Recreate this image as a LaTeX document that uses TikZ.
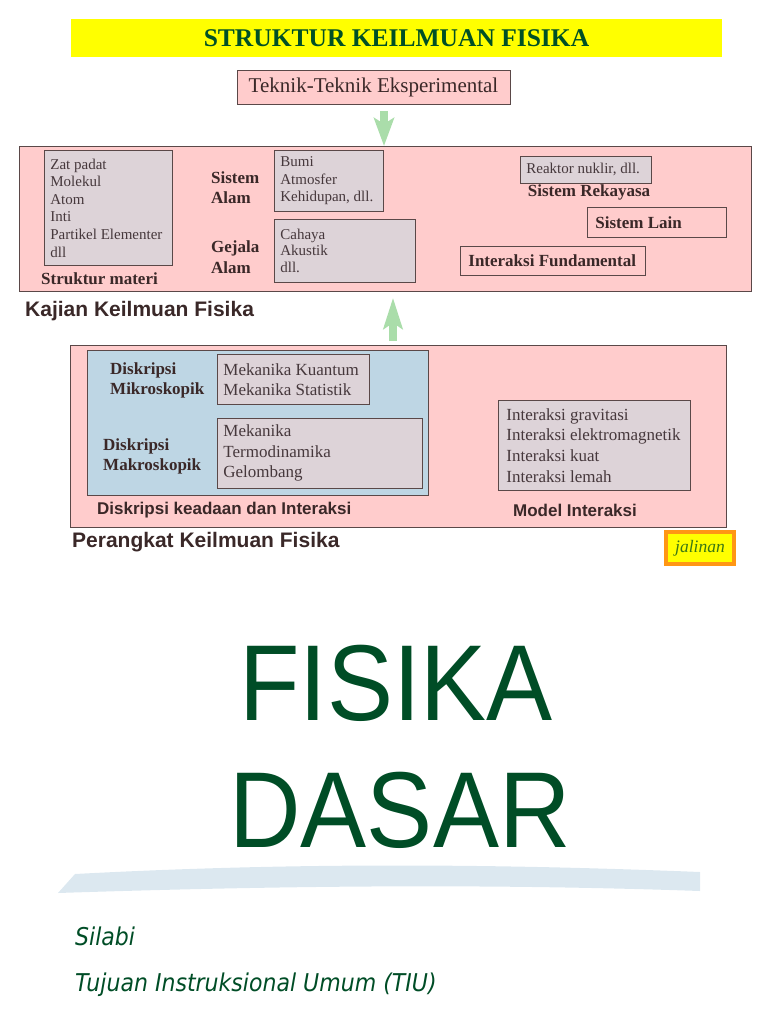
\documentclass[tikz,border=0pt]{standalone}
\usepackage{fontspec}
\setmainfont{Liberation Serif}
\setsansfont{Liberation Sans}
\newfontfamily\silabifont[FakeStretch=0.9]{DejaVu Sans}
\usetikzlibrary{arrows.meta,positioning,calc}

\definecolor{kuning}{RGB}{255,255,0}
\definecolor{hijautua}{RGB}{0,80,38}
\definecolor{hijaufisika}{RGB}{0,77,38}
\definecolor{merahmuda}{RGB}{255,204,204}
\definecolor{abuisi}{RGB}{221,211,216}
\definecolor{birumuda}{RGB}{190,214,228}
\definecolor{garis}{RGB}{90,72,72}
\definecolor{teksabu}{RGB}{70,56,60}
\definecolor{teksgelap}{RGB}{58,40,40}
\definecolor{hijaupanah}{RGB}{170,221,170}
\definecolor{oranye}{RGB}{255,150,20}
\definecolor{hijaujalin}{RGB}{60,120,20}
\definecolor{ombak}{RGB}{220,232,240}

\tikzset{
  kotakbesar/.style={draw=garis, fill=merahmuda, thick, anchor=north west, inner sep=0pt},
  isi/.style={draw=garis, fill=abuisi, thick, anchor=north west, align=flush left, inner xsep=6pt, inner ysep=0pt, text=teksabu},
  label/.style={font=\fontsize{17}{20}\selectfont\bfseries, text=teksgelap, align=left, inner sep=0pt},
  labelsans/.style={font=\sffamily\bfseries\fontsize{17}{20}\selectfont, text=teksgelap, inner sep=0pt},
  panah/.style={hijaupanah, line width=8pt}
}

\begin{document}
\begin{tikzpicture}[x=1pt,y=-1pt]
\useasboundingbox (0,0) rectangle (768,1024);

% judul
\node[fill=kuning, minimum width=651, minimum height=38, inner sep=0pt, text=hijautua,
      font=\fontsize{25.5}{28}\selectfont\bfseries] (judul) at (396.5,38) {STRUKTUR KEILMUAN FISIKA};

\node[draw=garis, fill=merahmuda, thick, minimum width=273, minimum height=34, inner sep=0pt,
      text=teksgelap, font=\fontsize{21}{24}\selectfont] (teknik) at (373.5,87) {Teknik-Teknik Eksperimental};

% kajian keilmuan
\node[kotakbesar, minimum width=732, minimum height=145] (kajian) at (19,146) {};

\node[isi, text width=116, minimum height=115, font=\fontsize{15}{17.6}\selectfont] (materi) at (44,150)
  {Zat padat\\Molekul\\Atom\\Inti\\Partikel Elementer\\dll};
\node[label, anchor=west] (strukturmateri) at (41,279) {Struktur materi};

\node[label, anchor=west] (sistemalam) at (211,188) {Sistem\\Alam};
\node[isi, text width=97, minimum height=61, font=\fontsize{15}{17.6}\selectfont] (bumi) at (274,150)
  {Bumi\\Atmosfer\\Kehidupan, dll.};

\node[label, anchor=west, font=\fontsize{17}{21}\selectfont\bfseries] (gejalaalam) at (211,257.5) {Gejala\\Alam};
\node[isi, text width=129, minimum height=63, font=\fontsize{15}{16.8}\selectfont] (cahaya) at (274,219)
  {Cahaya\\Akustik\\dll.};

\node[isi, text width=119, minimum height=27, font=\fontsize{15}{17.6}\selectfont] (reaktor) at (520,156)
  {Reaktor nuklir, dll.};
\node[label] (rekayasa) at (589,192) {Sistem Rekayasa};

\node[isi, fill=merahmuda, text=teksgelap, inner xsep=8pt, text width=123, minimum height=30,
      font=\fontsize{17}{20}\selectfont\bfseries] (lain) at (587,207) {Sistem Lain};
\node[isi, fill=merahmuda, text=teksgelap, inner xsep=8pt, text width=169, minimum height=29,
      font=\fontsize{17}{20}\selectfont\bfseries] (fundamental) at (460,246) {Interaksi Fundamental};

\node[labelsans, anchor=west, font=\sffamily\bfseries\fontsize{21}{24}\selectfont] (judulkajian) at (25,311) {Kajian Keilmuan Fisika};

% perangkat keilmuan
\node[kotakbesar, minimum width=656, minimum height=182] (perangkat) at (70,345) {};
\node[kotakbesar, fill=birumuda, minimum width=341, minimum height=145] (biru) at (87,350) {};

\node[label, anchor=west] (mikro) at (110,380) {Diskripsi\\Mikroskopik};
\node[isi, text width=140, minimum height=50, font=\fontsize{17}{20}\selectfont] (kuantum) at (217,354)
  {Mekanika Kuantum\\Mekanika Statistik};

\node[label, anchor=west] (makro) at (103,456) {Diskripsi\\Makroskopik};
\node[isi, text width=193, minimum height=70, font=\fontsize{17}{20.5}\selectfont] (mekanika) at (217,418)
  {Mekanika\\Termodinamika\\Gelombang};

\node[isi, inner xsep=8pt, text width=176, minimum height=90, font=\fontsize{17}{20.6}\selectfont] (interaksi) at (498,400)
  {Interaksi gravitasi\\Interaksi elektromagnetik\\Interaksi kuat\\Interaksi lemah};

\node[labelsans, anchor=west] (keadaan) at (97,510) {Diskripsi keadaan dan Interaksi};
\node[labelsans] (model) at (575,510) {Model Interaksi};

\node[labelsans, anchor=west, font=\sffamily\bfseries\fontsize{21}{24}\selectfont] (judulperangkat) at (72,542) {Perangkat Keilmuan Fisika};

\node[draw=oranye, line width=3.5pt, fill=kuning, minimum width=68, minimum height=32, inner sep=0pt,
      text=hijaujalin, font=\fontsize{17.5}{20}\selectfont\itshape] (jalinan) at (700,548) {jalinan};

% panah
\coordinate (pA) at (384,111);
\draw[panah, -{Stealth[length=28pt,width=20pt,inset=6pt]}] (pA) -- (pA |- kajian.north);
\coordinate (pB) at (393,341);
\draw[panah, -{Stealth[length=31pt,width=19pt,inset=6pt]}] (pB) -- ($(pB |- kajian.south)+(0,6)$);

% fisika dasar
\node[text=hijaufisika, font=\sffamily\fontsize{99}{110}\selectfont, inner sep=0pt] (fisika) at (396,683.5)
  {\scalebox{1}[1.09]{FISIKA}};
\node[text=hijaufisika, font=\sffamily\fontsize{99}{110}\selectfont, inner sep=0pt] (dasar) at (400,810)
  {\scalebox{1}[1.09]{DASAR}};

\fill[ombak] (58,893) -- (75,874) .. controls (300,862) and (500,864) .. (700,872)
  -- (700,891) .. controls (500,884) and (300,885) .. (58,893) -- cycle;

\node[anchor=west, text=hijaufisika, font=\silabifont\itshape\fontsize{24.5}{28}\selectfont, inner sep=0pt] (silabi) at (75,936) {Silabi};
\node[anchor=west, text=hijaufisika, font=\silabifont\itshape\fontsize{24.5}{28}\selectfont, inner sep=0pt] (tiu) at (75,985) {Tujuan Instruksional Umum (TIU)};
\end{tikzpicture}
\end{document}
